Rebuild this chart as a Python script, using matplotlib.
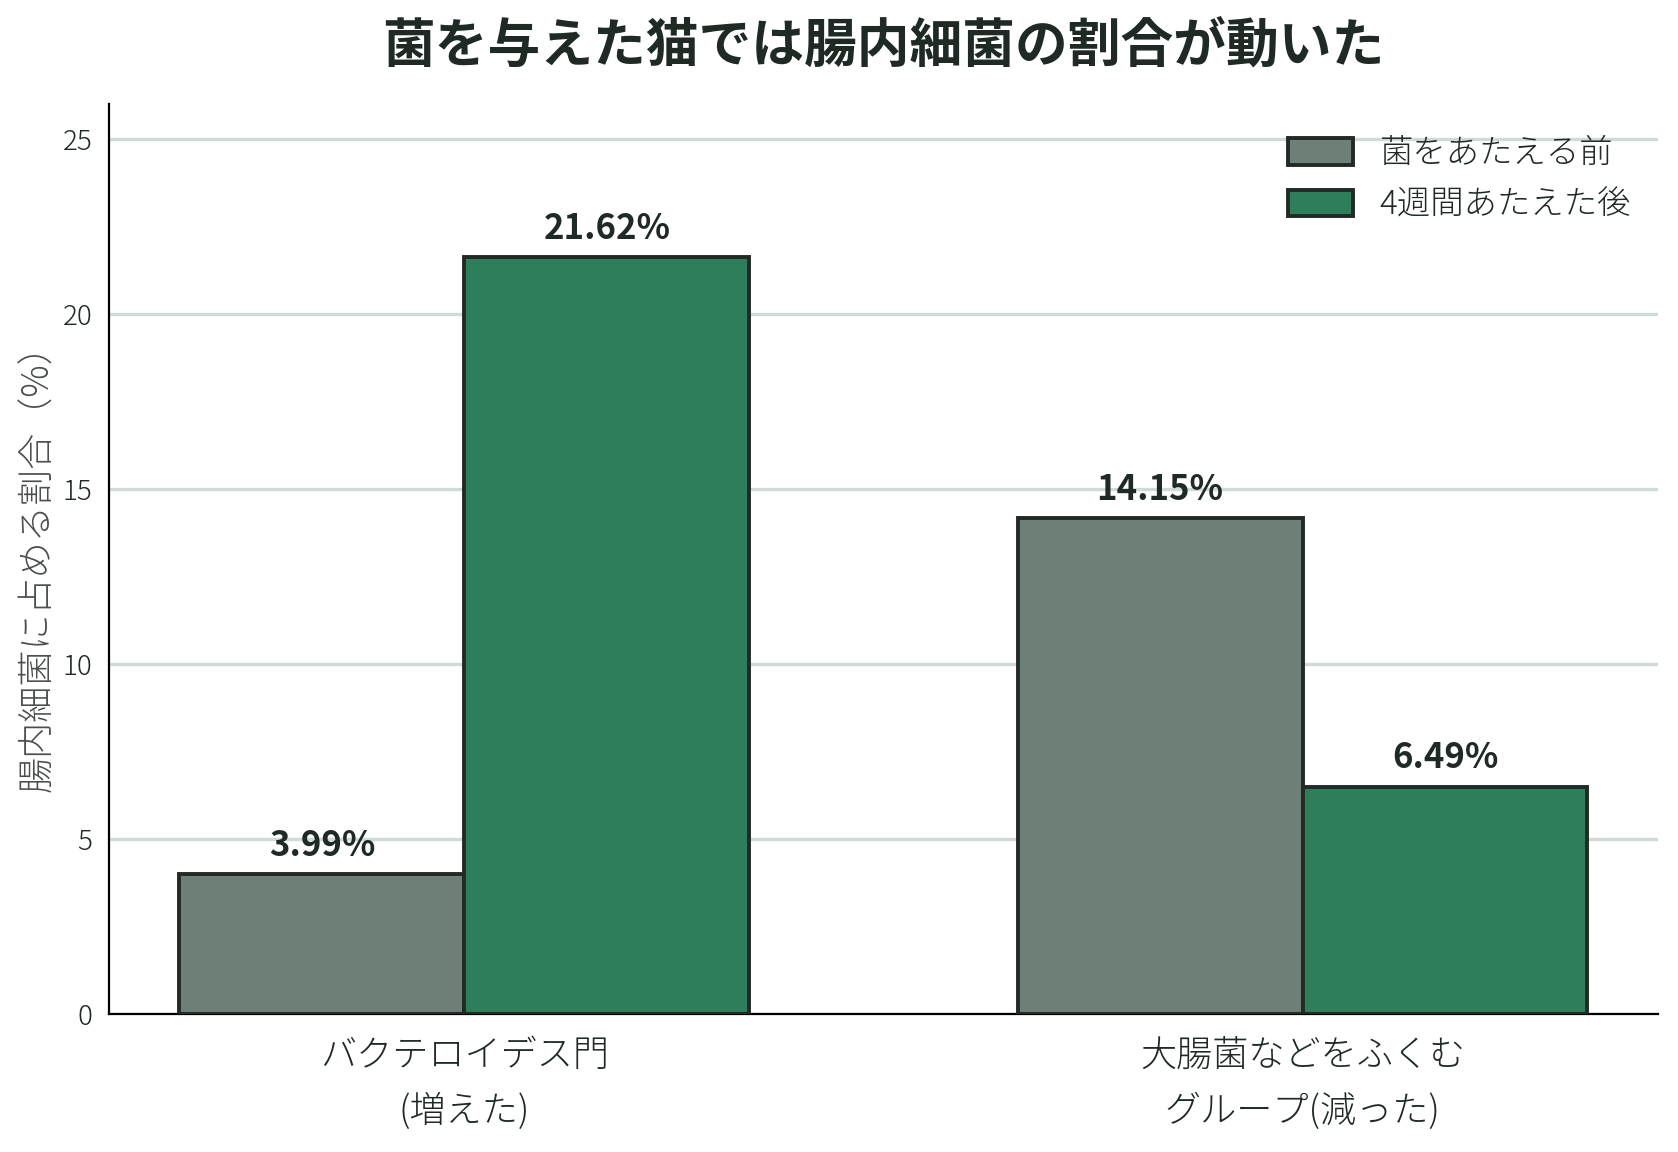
import numpy as np
import matplotlib
matplotlib.use("Agg")
import matplotlib.pyplot as plt

plt.rcParams['font.family'] = ['Noto Sans CJK JP', 'DejaVu Sans']

# data
categories = ['バクテロイデス門\n(増えた)', '大腸菌などをふくむ\nグループ(減った)']
before = [3.99, 14.15]
after = [21.62, 6.49]
series_names = ['菌をあたえる前', '4週間あたえた後']
yticks = [0, 5, 10, 15, 20, 25]

text_col = '#1f2a25'
edge_col = '#222a26'
gray_col = '#6d7f76'
green_col = '#2e7d5b'
grid_col = '#d0dad6'

fig = plt.figure(figsize=(8.39, 5.76), dpi=200)
ax = fig.add_axes([0.065, 0.12, 0.923, 0.79])

x = np.arange(len(categories))
w = 0.34
b1 = ax.bar(x - w / 2, before, w, color=gray_col, edgecolor=edge_col, linewidth=1.4,
            label=series_names[0], zorder=3)
b2 = ax.bar(x + w / 2, after, w, color=green_col, edgecolor=edge_col, linewidth=1.4,
            label=series_names[1], zorder=3)

for bars in (b1, b2):
    for r in bars:
        h = r.get_height()
        ax.annotate(f'{h:.2f}%', (r.get_x() + r.get_width() / 2, h),
                    xytext=(0, 4), textcoords='offset points',
                    ha='center', va='bottom', fontsize=12.5, fontweight='bold',
                    color=text_col, zorder=4)

ax.set_ylim(0, 26)
ax.set_yticks(yticks)
ax.set_xticks(x)
ax.set_xticklabels(categories, fontsize=13, color=text_col, linespacing=1.6,
                   fontweight='light')
for t in ax.get_yticklabels():
    t.set_fontweight('light')
ax.tick_params(axis='y', labelsize=10, colors=text_col, length=0, pad=6)
ax.tick_params(axis='x', length=0, pad=8)
ax.yaxis.grid(True, color=grid_col, linewidth=1.2, zorder=0)
ax.set_axisbelow(True)
for s in ('top', 'right'):
    ax.spines[s].set_visible(False)
ax.spines['left'].set_color('black')
ax.spines['bottom'].set_color('black')

ax.set_ylabel('腸内細菌に占める割合（%）', fontsize=13, color='#4a4f4c', labelpad=2,
              fontweight='light')
# title centred over the axes, not the figure
fig.text(0.065 + 0.923 / 2, 0.96, '菌を与えた猫では腸内細菌の割合が動いた', fontsize=19,
         fontweight='bold', color=text_col, ha='center', va='center')

ax.legend(loc='upper right', frameon=False, prop={'size': 12, 'weight': 'light'},
          labelcolor=text_col, handlelength=1.95, handleheight=0.85,
          borderaxespad=0.4, bbox_to_anchor=(1.0, 0.993))

fig.savefig('out.png', dpi=200)
